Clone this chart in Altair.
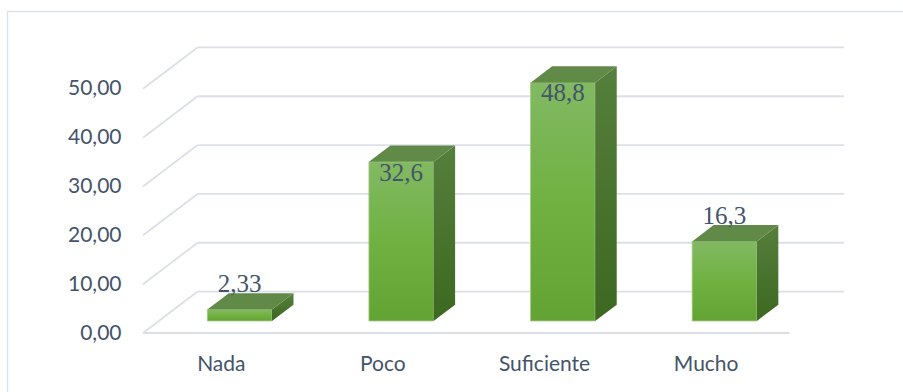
import altair as alt
import pandas as pd

# ---- data ----
categories = ["Nada", "Poco", "Suficiente", "Mucho"]
values = [2.33, 32.6, 48.8, 16.3]
value_labels = ["2,33", "32,6", "48,8", "16,3"]
y_ticks = [0, 10, 20, 30, 40, 50]

# ---- pseudo-3D geometry (in scale units) ----
DEPTH_X = 0.3375   # full wall depth, x units
DEPTH_Y = 8.48     # full wall depth, y units
F0, F1 = 0.29, 0.685   # bar front / back depth fractions
HALF = 0.2             # half width of bar front face
X_MIN, X_MAX = -0.5, len(categories) - 0.5

fx0, fy0 = F0 * DEPTH_X, F0 * DEPTH_Y
ddx, ddy = (F1 - F0) * DEPTH_X, (F1 - F0) * DEPTH_Y

front_rows, side_rows, top_rows, label_rows = [], [], [], []
for i, (c, v, lab) in enumerate(zip(categories, values, value_labels)):
    xl, xr = i + fx0 - HALF, i + fx0 + HALF
    front_rows.append({"cat": c, "x": xl, "x2": xr, "y": fy0, "y2": fy0 + v})
    side_rows.append({"cat": c, "x": xr, "lo": fy0, "hi": fy0 + v})
    side_rows.append({"cat": c, "x": xr + ddx, "lo": fy0 + ddy, "hi": fy0 + ddy + v})
    top_rows.append({"cat": c, "y": fy0 + v, "xl": xl, "xr": xr})
    top_rows.append({"cat": c, "y": fy0 + ddy + v, "xl": xl + ddx, "xr": xr + ddx})
    label_rows.append({"cat": c, "x": i + fx0,
                       "y": fy0 + v + (-2.2 if v > 25 else 5.2), "text": lab})

back_rows = [{"x": X_MIN + DEPTH_X, "x2": X_MAX + DEPTH_X, "y": t + DEPTH_Y} for t in y_ticks]
diag_rows = [{"x": X_MIN, "x2": X_MIN + DEPTH_X, "y": t, "y2": t + DEPTH_Y} for t in y_ticks]
floor_rows = [{"x": X_MIN, "x2": X_MAX, "y": 0}]

W, H = 701, 293
PAD = {"left": 143, "top": 40, "right": 903 - 143 - W, "bottom": 392 - 40 - H}

xscale = alt.Scale(domain=[X_MIN, X_MAX + DEPTH_X], nice=False, zero=False)
yscale = alt.Scale(domain=[0, 60], nice=False, zero=False)

GRID = "#DCE0E6"
TXT = "#44546A"

names_js = "[" + ",".join('"%s"' % c for c in categories) + "]"

xaxis = alt.Axis(values=list(range(len(categories))), labelExpr=names_js + "[datum.value]",
                 domain=False, ticks=False, grid=False, title=None,
                 labelFont="Lato", labelFontSize=21, labelColor=TXT,
                 labelPadding=20, labelOffset=-3)
yaxis = alt.Axis(values=y_ticks, labelExpr="replace(format(datum.value, '.2f'), '.', ',')",
                 domain=False, ticks=False, grid=False, title=None,
                 labelFont="Lato", labelFontSize=21, labelColor=TXT, labelPadding=22)

border = alt.Chart(pd.DataFrame([{"k": 1}])).mark_rect(
    filled=False, stroke="#DCE2E9", strokeWidth=1.4
).encode(x=alt.value(-135.5), x2=alt.value(W + 120), y=alt.value(-28.5), y2=alt.value(H + 120))

back = alt.Chart(pd.DataFrame(back_rows)).mark_rule(color=GRID, strokeWidth=1.8).encode(
    x=alt.X("x:Q", scale=xscale, axis=xaxis), x2="x2:Q",
    y=alt.Y("y:Q", scale=yscale, axis=yaxis))
diag = alt.Chart(pd.DataFrame(diag_rows)).mark_rule(color=GRID, strokeWidth=1.8).encode(
    x=alt.X("x:Q", scale=xscale), x2="x2:Q",
    y=alt.Y("y:Q", scale=yscale), y2="y2:Q")
floor = alt.Chart(pd.DataFrame(floor_rows)).mark_rule(color=GRID, strokeWidth=1.8).encode(
    x=alt.X("x:Q", scale=xscale), x2="x2:Q", y=alt.Y("y:Q", scale=yscale))

front_grad = alt.Gradient(gradient="linear", x1=0, x2=0, y1=0, y2=1,
                          stops=[alt.GradientStop(color="#82B963", offset=0),
                                 alt.GradientStop(color="#70B142", offset=0.5),
                                 alt.GradientStop(color="#63A333", offset=1)])
side_grad = alt.Gradient(gradient="linear", x1=0, x2=0, y1=0, y2=1,
                         stops=[alt.GradientStop(color="#557F3C", offset=0),
                                alt.GradientStop(color="#3D6820", offset=1)])
top_grad = alt.Gradient(gradient="linear", x1=0, x2=0, y1=0, y2=1,
                        stops=[alt.GradientStop(color="#62884A", offset=0),
                               alt.GradientStop(color="#5F8B45", offset=1)])

front = alt.Chart(pd.DataFrame(front_rows)).mark_rect(
    color=front_grad, stroke="#A3CD86", strokeWidth=0.8
).encode(x=alt.X("x:Q", scale=xscale), x2="x2:Q",
         y=alt.Y("y:Q", scale=yscale), y2="y2:Q")
side = alt.Chart(pd.DataFrame(side_rows)).mark_area(
    color=side_grad, orient="vertical"
).encode(x=alt.X("x:Q", scale=xscale), y=alt.Y("lo:Q", scale=yscale), y2="hi:Q",
         detail="cat:N")
top = alt.Chart(pd.DataFrame(top_rows)).mark_area(
    color=top_grad, orient="horizontal"
).encode(y=alt.Y("y:Q", scale=yscale), x=alt.X("xl:Q", scale=xscale), x2="xr:Q",
         detail="cat:N")

labels = alt.Chart(pd.DataFrame(label_rows)).mark_text(
    font="Liberation Serif", fontSize=25, color=TXT, baseline="middle", align="center"
).encode(x=alt.X("x:Q", scale=xscale), y=alt.Y("y:Q", scale=yscale), text="text:N")

chart = alt.layer(border, back, diag, floor, front, side, top, labels).properties(
    width=W, height=H, autosize=alt.AutoSizeParams(type="none"), padding=PAD,
    background="white"
).configure_view(strokeWidth=0, stroke="transparent")

chart.save("out.html", embed_options={"renderer": "svg", "actions": False})
